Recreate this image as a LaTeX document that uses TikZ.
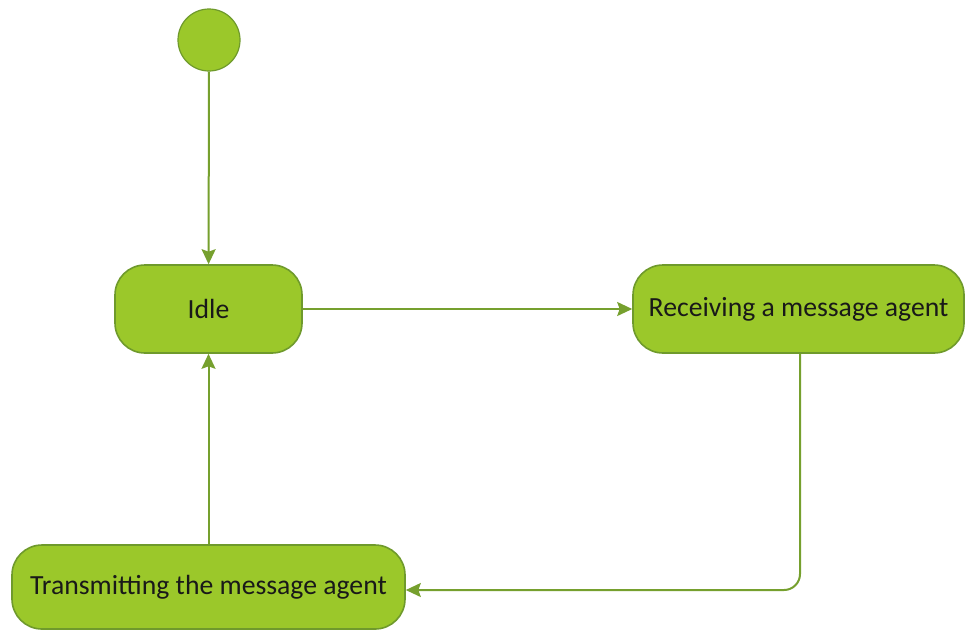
\documentclass[tikz,border=0pt]{standalone}
\usepackage{fontspec}
\setmainfont{Carlito}
\usepackage{xcolor}
\usepackage{tikz}
\usetikzlibrary{arrows.meta, positioning, calc, backgrounds}

\definecolor{stategreen}{HTML}{9BC82A}
\definecolor{stateedge}{HTML}{6F9A2C}
\definecolor{flowgreen}{HTML}{76A02E}

\begin{document}
\begin{tikzpicture}[
		  x=1pt, y=-1pt,
		  background rectangle/.style={fill=white},
		  show background rectangle,
		  font=\fontsize{27.7}{32}\selectfont,
		  statebox/.style={
		    draw=stateedge,
		    line width=1.6pt,
		    rounded corners=30pt,
		    align=center,
		    minimum height=88pt,
		    fill=stategreen,
		    text=black!90
		  },
		  startdot/.style={circle, draw=stateedge, line width=1.2pt, fill=stategreen, minimum size=62pt, inner sep=0pt},
		  arrow/.style={-{Stealth[length=15pt,width=14pt,inset=2.5pt]}, line width=2pt, draw=flowgreen}
		]
		\useasboundingbox (0,0) rectangle (965,630);

		% --- states ---
		\node[startdot] (start) at (209,40) {};
		\node[statebox, minimum width=187pt] (idle) at (208.5,309) {Idle};
		\node[statebox, minimum width=331pt] (recv) at (798.5,309) {Receiving a message agent};
		\node[statebox, minimum width=393pt, minimum height=84pt] (trans) at (208.5,587) {Transmitting the message agent};

		% --- transitions ---
		\draw[arrow] (start) -- (idle);
		\draw[arrow] (idle) -- (recv);
		\draw[arrow, rounded corners=16pt] (recv.south -| 800,0) -- (800,590) -- (trans.east |- 0,590);
		\draw[arrow] (trans) -- (idle);

		\end{tikzpicture}
\end{document}
